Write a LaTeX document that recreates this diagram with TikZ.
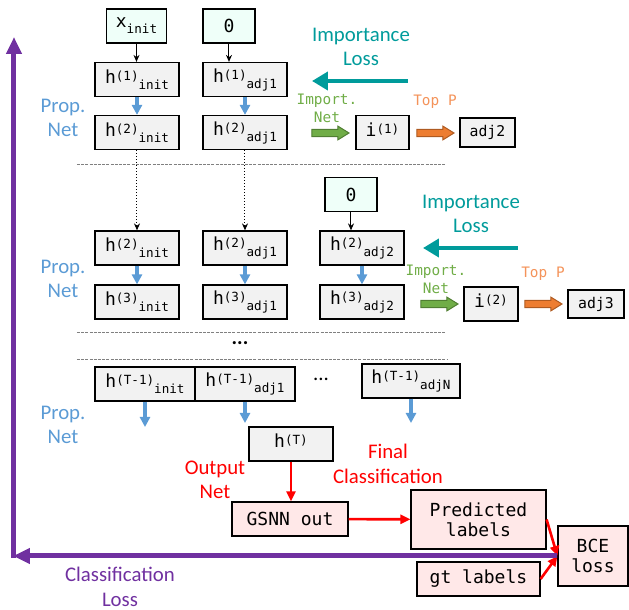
\documentclass[tikz,border=0pt]{standalone}
\usepackage{fontspec}
\setmainfont{Carlito}
\setmonofont{DejaVu Sans Mono}
\usetikzlibrary{arrows.meta}

\definecolor{boxgray}{HTML}{F2F2F2}
\definecolor{inmint}{HTML}{EFFFF9}
\definecolor{outpink}{HTML}{FFE8E8}
\definecolor{propblue}{HTML}{5B9BD5}
\definecolor{impteal}{HTML}{009B9B}
\definecolor{impgreen}{HTML}{70AD47}
\definecolor{impgreendk}{HTML}{507E32}
\definecolor{toporange}{HTML}{ED7D31}
\definecolor{toporangedk}{HTML}{AE5A21}
\definecolor{toptext}{HTML}{F4935A}
\definecolor{clspurple}{HTML}{7030A0}

\newcommand{\bigmono}{\ttfamily\fontsize{9}{10}\selectfont}
\newcommand{\smallmono}{\ttfamily\fontsize{7.4}{9}\selectfont}
\newcommand{\scrmono}{\fontsize{6.3}{7}\selectfont}
\newcommand{\labfont}{\fontsize{10.4}{12.3}\selectfont}
\newcommand{\netfont}{\ttfamily\fontsize{7.2}{9}\selectfont}
\newcommand{\hlab}[3]{#1\raisebox{1.5pt}{\scrmono#2}\raisebox{-3pt}{\scrmono#3}}

\tikzset{
  tbox/.style = {rectangle, draw=black, fill=boxgray, line width=0.6pt,
    inner sep=0pt, minimum width=42pt, minimum height=17pt, font=\bigmono},
  inbox/.style = {tbox, fill=inmint, minimum width=26pt},
  outbox/.style = {tbox, fill=outpink},
  feed/.style = {-{Stealth[length=3.5pt,width=3pt]}, line width=0.5pt},
  carry/.style = {feed, densely dotted},
  prop/.style = {-{Triangle[length=5pt,width=5pt]}, line width=1.6pt, propblue},
  impl/.style = {-{Triangle[length=8pt,width=9pt]}, line width=2.2pt, impteal},
  outarr/.style = {-{Triangle[length=5pt,width=4.5pt]}, line width=1.3pt, red},
  clsloss/.style = {-{Triangle[length=8.5pt,width=7.5pt]}, line width=2.5pt, clspurple},
  sep/.style = {gray, line width=0.4pt, dash pattern=on 1.5pt off 0.6pt},
  proplab/.style = {align=center, text=propblue, font=\labfont},
  implab/.style = {align=center, text=impteal, font=\labfont},
  redlab/.style = {align=center, text=red, font=\labfont},
  netlab/.style = {align=center, text=impgreen, font=\netfont},
  toplab/.style = {text=toptext, font=\netfont},
  greenarr/.style = {fill=impgreen, draw=impgreendk, line width=0.5pt},
  orangearr/.style = {fill=toporange, draw=toporangedk, line width=0.5pt},
  fatarr/.pic = {\path[pic actions] (0,-3.7) -- (26,-3.7) -- (26,-6.8) -- (37,0)
    -- (26,6.8) -- (26,3.7) -- (0,3.7) -- cycle;}
}

\begin{document}
\begin{tikzpicture}[x=0.5pt,y=-0.5pt]
\useasboundingbox (0,0) rectangle (629,610);

% first step
\node[inbox, minimum width=30pt] (xinit) at (136.5,26) {\hlab{x}{}{init}};
\node[inbox] (zero1) at (229,26) {0};
\node[tbox] (h1init) at (137,79.5) {\hlab{h}{(1)}{init}};
\node[tbox] (h1adj1) at (245,79.5) {\hlab{h}{(1)}{adj1}};
\node[tbox] (h2init) at (137,132.5) {\hlab{h}{(2)}{init}};
\node[tbox] (h2adj1) at (245,132.5) {\hlab{h}{(2)}{adj1}};
\node[tbox, minimum width=26.5pt] (i1) at (382.5,132.5) {\hlab{i}{(1)}{}};
\node[tbox, minimum width=27.5pt, minimum height=14.5pt, font=\smallmono] (adj2) at (487.5,132.5) {adj2};

\draw[feed] (xinit) -- (xinit |- h1init.north);
\draw[feed] (zero1) -- (zero1 |- h1adj1.north);
\draw[prop] (h1init) -- (h2init);
\draw[prop] (h1adj1) -- (h2adj1);

\node[proplab] (prop1) at (63,118) {Prop.\\Net};
\node[implab] (imp1) at (361,47) {Importance\\Loss};
\coordinate (imp1s) at (408,81);
\coordinate (imp1e) at (312,81);
\draw[impl] (imp1s) -- (imp1e);
\node[netlab] (net1) at (327,108) {Import.\\Net};
\pic[greenarr] at (312,133) {fatarr};
\node[toplab] (top1) at (435,102) {Top P};
\pic[orangearr] at (417,133) {fatarr};

\draw[sep] (77,164) -- (446,164);

% second step
\node[tbox] (h2initb) at (137,248) {\hlab{h}{(2)}{init}};
\node[tbox] (h2adj1b) at (245,248) {\hlab{h}{(2)}{adj1}};
\node[inbox] (zero2) at (351,194.5) {0};
\node[tbox] (h2adj2) at (362,248) {\hlab{h}{(2)}{adj2}};
\node[tbox] (h3init) at (137,302) {\hlab{h}{(3)}{init}};
\node[tbox] (h3adj1) at (245,302) {\hlab{h}{(3)}{adj1}};
\node[tbox] (h3adj2) at (362,302) {\hlab{h}{(3)}{adj2}};
\node[tbox, minimum width=27pt] (i2) at (491,304) {\hlab{i}{(2)}{}};
\node[tbox, minimum width=28pt, minimum height=14pt, font=\smallmono] (adj3) at (596,304) {adj3};

\draw[carry] (h2init) -- (h2initb);
\draw[carry] (h2adj1) -- (h2adj1b);
\draw[feed] (zero2) -- (zero2 |- h2adj2.north);
\draw[prop] (h2initb) -- (h3init);
\draw[prop] (h2adj1b) -- (h3adj1);
\draw[prop] (h2adj2) -- (h3adj2);

\node[proplab] (prop2) at (63,279) {Prop.\\Net};
\node[implab] (imp2) at (471,214) {Importance\\Loss};
\coordinate (imp2s) at (518,248);
\coordinate (imp2e) at (423,248);
\draw[impl] (imp2s) -- (imp2e);
\node[netlab] (net2) at (436,279) {Import.\\Net};
\pic[greenarr] at (421,304) {fatarr};
\node[toplab] (top2) at (543,274) {Top P};
\pic[orangearr] at (525,304) {fatarr};

\draw[sep] (77,332) -- (446,332);
\node[font=\labfont\bfseries] (more) at (240,343) {...};
\draw[sep] (77,359) -- (447,359);

% last step
\node[tbox, minimum width=50pt] (hTinit) at (145,384) {\hlab{h}{(T-1)}{init}};
\node[tbox, minimum width=50pt] (hTadj1) at (245,384) {\hlab{h}{(T-1)}{adj1}};
\node[font=\labfont] (dots) at (321,379) {...};
\node[tbox, minimum width=49pt] (hTadjN) at (411,381) {\hlab{h}{(T-1)}{adjN}};
\coordinate (pT1) at (145,427);
\coordinate (pT2) at (245,423);
\coordinate (pT3) at (411,423);
\draw[prop] (hTinit) -- (pT1);
\draw[prop] (hTadj1) -- (pT2);
\draw[prop] (hTadjN) -- (pT3);
\node[proplab] (prop3) at (63,425) {Prop.\\Net};

\node[tbox] (hT) at (291,444) {\hlab{h}{(T)}{}};
\node[redlab] (outnet) at (215,480) {Output\\Net};
\node[outbox, minimum width=58pt] (gsnn) at (290,519) {GSNN out};
\draw[outarr] (hT) -- (hT |- gsnn.north);

\node[redlab] (finalcls) at (388,464) {Final\\Classification};
\node[outbox, minimum width=67.5pt, minimum height=29.5pt, align=center] (pred) at (478.5,519.5) {Predicted\\labels};
\node[outbox, minimum width=35pt, minimum height=30pt, align=center] (bce) at (593,556) {BCE\\loss};
\node[outbox, minimum width=61.5pt] (gt) at (478.5,579) {gt labels};
\draw[outarr] (gsnn) -- (pred);
\draw[outarr] (pred.east) -- (bce.west);
\draw[outarr] (gt.east) -- (bce.west);

% classification loss
\coordinate (corner) at (13,556);
\coordinate (lossturn) at (14,558);
\coordinate (losstop) at (14,37);
\draw[clsloss] (bce.west) -- (corner);
\draw[clsloss] (lossturn) -- (losstop);
\node[align=center, text=clspurple, font=\labfont] (clslab) at (120,587) {Classification\\Loss};

\end{tikzpicture}
\end{document}
